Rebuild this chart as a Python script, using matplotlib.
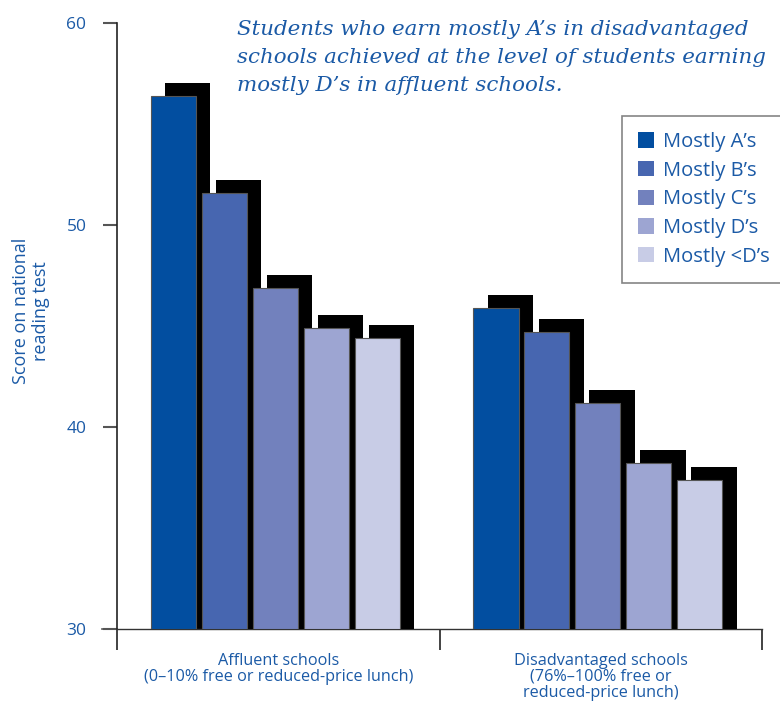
import numpy as np
import matplotlib.pyplot as plt
from matplotlib.patches import Patch

# Reading scores by school type and grades earned
groups = ["Affluent schools\n(0\u201310% free or reduced-price lunch)",
          "Disadvantaged schools\n(76%\u2013100% free or\nreduced-price lunch)"]
grades = ["Mostly A\u2019s", "Mostly B\u2019s", "Mostly C\u2019s", "Mostly D\u2019s", "Mostly <D\u2019s"]
affluent = [56.4, 51.6, 46.9, 44.9, 44.4]
disadvantaged = [45.9, 44.7, 41.2, 38.2, 37.4]
scores = np.array([affluent, disadvantaged])

colors = ["#024ea0", "#4766b0", "#7281bd", "#9da5d2", "#c8cce6"]
text_blue = "#1b5aa6"

plt.rcParams['font.family'] = ['Open Sans', 'DejaVu Sans']

W, H = 780, 701
fig = plt.figure(figsize=(W / 100, H / 100), dpi=100)
ax = fig.add_axes([117 / W, (H - 629) / H, 645 / W, 606 / H])

ymin, ymax = 30, 60
bar_w = 0.14
step = 0.158
first = 0.105
shadow_dx = 0.044
shadow_dy = 0.64

for g in range(len(groups)):
    for i in range(len(grades)):
        x = g + first + i * step
        v = scores[g, i]
        # black drop shadow behind each bar
        ax.bar(x + shadow_dx, v + shadow_dy - ymin, bottom=ymin, width=bar_w,
               align="edge", color="black", linewidth=0, zorder=2 + i * 2)
        ax.bar(x, v - ymin, bottom=ymin, width=bar_w, align="edge",
               color=colors[i], edgecolor="#555555", linewidth=0.8, zorder=3 + i * 2)

ax.set_xlim(0, 2)
ax.set_ylim(ymin, ymax)

# Axes styling
for side in ["top", "right"]:
    ax.spines[side].set_visible(False)
ax.spines["left"].set_color("#222222")
ax.spines["left"].set_linewidth(1.2)
ax.spines["bottom"].set_color("#333333")
ax.spines["bottom"].set_linewidth(1.0)

ax.set_yticks([30, 40, 50, 60])
ax.tick_params(axis="y", direction="out", length=10, width=1.5, color="#555555",
               labelsize=12.5, labelcolor=text_blue, pad=12)
ax.set_xticks([0, 1, 2])
ax.tick_params(axis="x", direction="out", length=15, width=1.2, color="#222222",
               labelbottom=False)
ax.set_xticks([0.5, 1.5], minor=True)
ax.set_xticklabels(groups, minor=True)
ax.tick_params(axis="x", which="minor", length=0, pad=17, labelsize=11.7,
               labelcolor=text_blue)
for lbl in ax.get_xticklabels(minor=True):
    lbl.set_linespacing(1.0)
    lbl.set_va("top")

# extend the baseline left past the spine
ax.plot([-0.045, 0], [ymin, ymin], color="#555555", linewidth=1.2, clip_on=False)

fig.text(31 / W, 1 - 311 / H, "Score on national\nreading test", rotation=90,
         ha="center", va="center", fontsize=13, color=text_blue, linespacing=1.12)

fig.text(237 / W, 1 - 20 / H,
         "Students who earn mostly A\u2019s in disadvantaged\n"
         "schools achieved at the level of students earning\n"
         "mostly D\u2019s in affluent schools.",
         ha="left", va="top", fontsize=15.4, color=text_blue, style="italic",
         family="DejaVu Serif", linespacing=1.6)

handles = [Patch(facecolor=c, edgecolor="none") for c in colors]
leg = fig.legend(handles, grades, loc="upper left", bbox_to_anchor=(622 / W, 1 - 116 / H),
                 frameon=True, fancybox=False, edgecolor="#666666", fontsize=14.5,
                 labelcolor=text_blue, handlelength=0.8, handleheight=0.8,
                 handletextpad=0.45, labelspacing=0.43, borderpad=0.8, borderaxespad=0)
leg.get_frame().set_linewidth(1.2)

fig.savefig("out.png", dpi=100)
